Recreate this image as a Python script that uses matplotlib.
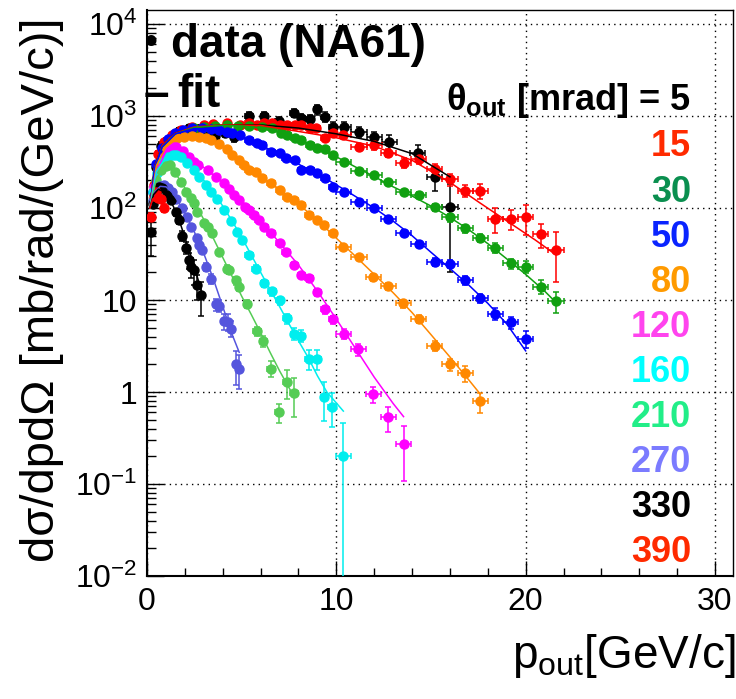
import numpy as np
import matplotlib
matplotlib.use("Agg")
from matplotlib import pyplot as plt
from matplotlib.ticker import MultipleLocator, LogLocator, FixedLocator, FixedFormatter, NullFormatter

plt.rcParams['font.family'] = ['Liberation Sans', 'DejaVu Sans']
plt.rcParams['mathtext.fontset'] = 'custom'
plt.rcParams['mathtext.rm'] = 'Liberation Sans'
plt.rcParams['mathtext.it'] = 'Liberation Sans:italic'
plt.rcParams['mathtext.bf'] = 'Liberation Sans:bold'

# theta_out [mrad] -> measured points (p [GeV/c], d2sigma, relative error)
angles = [5, 15, 30, 50, 80, 120, 160, 210, 270, 330, 390]

d5 = [(0.2, 55, 0.45), (0.5, 280, 0.1), (0.75, 470, 0.12), (1.0, 520, 0.1), (1.3, 600, 0.1),
      (1.7, 680, 0.08), (2.2, 740, 0.08), (2.7, 720, 0.1), (3.2, 640, 0.1), (3.6, 610, 0.1),
      (4.1, 650, 0.1), (4.6, 590, 0.12), (5.4, 1000, 0.1), (6.2, 1000, 0.1), (6.95, 880, 0.12),
      (7.75, 1080, 0.1), (8.15, 950, 0.1), (8.6, 930, 0.1), (9.0, 1180, 0.12), (9.4, 975, 0.12),
      (9.8, 760, 0.12), (10.4, 760, 0.12), (11.2, 670, 0.12), (12.0, 590, 0.14), (12.8, 520, 0.2),
      (14.3, 400, 0.2), (15.2, 217, 0.3), (16.0, 102, 0.8)]
d15 = [(0.35, 180, 0.08), (0.6, 390, 0.06), (0.9, 520, 0.05), (1.3, 620, 0.05), (1.8, 700, 0.05),
       (2.4, 760, 0.05), (3.0, 790, 0.05), (3.5, 820, 0.05), (4.2, 840, 0.05), (4.9, 800, 0.05),
       (5.4, 840, 0.05), (5.8, 800, 0.05), (6.2, 840, 0.05), (6.6, 840, 0.05), (7.0, 800, 0.05),
       (7.4, 800, 0.06), (7.8, 790, 0.06), (8.15, 790, 0.06), (8.6, 740, 0.06), (8.95, 740, 0.06),
       (9.4, 575, 0.08), (9.8, 655, 0.08), (10.35, 620, 0.08), (11.2, 460, 0.08), (12.0, 480, 0.1),
       (12.75, 400, 0.1), (13.55, 310, 0.12), (14.35, 340, 0.12), (15.2, 265, 0.14), (16.0, 205, 0.15),
       (16.8, 154, 0.15), (17.6, 154, 0.18), (18.4, 76, 0.3), (19.2, 76, 0.25), (20.0, 79, 0.35),
       (20.8, 52, 0.3), (21.6, 35, 0.55)]
d30 = [(0.4, 140, 0.05), (0.7, 320, 0.05), (1.0, 450, 0.04), (1.4, 580, 0.04), (1.9, 680, 0.04),
       (2.5, 740, 0.04), (3.0, 760, 0.04), (3.6, 780, 0.04), (4.2, 790, 0.04), (4.8, 780, 0.04),
       (5.4, 770, 0.04), (6.1, 760, 0.04), (6.6, 740, 0.04), (7.1, 655, 0.04), (7.4, 620, 0.04),
       (7.8, 575, 0.05), (8.15, 550, 0.05), (8.6, 483, 0.05), (9.0, 447, 0.05), (9.4, 440, 0.05),
       (9.8, 376, 0.05), (10.4, 316, 0.06), (11.2, 251, 0.06), (12.0, 226, 0.06), (12.75, 190, 0.07),
       (13.55, 148, 0.07), (14.35, 138, 0.08), (15.2, 102, 0.08), (16.0, 79, 0.1), (16.8, 60, 0.1),
       (17.6, 47, 0.1), (18.4, 37, 0.12), (19.2, 25, 0.12), (20.0, 23, 0.14), (20.8, 14, 0.18),
       (21.6, 9.7, 0.25)]
d50 = [(0.3, 150, 0.05), (0.5, 300, 0.04), (0.8, 450, 0.04), (1.1, 560, 0.04), (1.5, 650, 0.04),
       (1.9, 700, 0.04), (2.4, 735, 0.04), (2.9, 740, 0.04), (3.4, 720, 0.04), (3.8, 705, 0.04),
       (4.2, 670, 0.04), (4.5, 650, 0.04), (4.9, 620, 0.04), (5.4, 550, 0.04), (5.8, 508, 0.04),
       (6.1, 490, 0.04), (6.55, 407, 0.04), (7.0, 395, 0.04), (7.35, 350, 0.05), (7.8, 330, 0.05),
       (8.15, 257, 0.05), (8.6, 257, 0.05), (9.0, 240, 0.05), (9.4, 211, 0.05), (9.8, 169, 0.05),
       (10.4, 151, 0.06), (11.2, 116, 0.06), (12.0, 100, 0.06), (12.75, 76, 0.07), (13.55, 54, 0.08),
       (14.35, 41, 0.08), (15.2, 26, 0.1), (16.0, 24.5, 0.1), (16.8, 16.4, 0.12), (17.6, 10.5, 0.12),
       (18.4, 7.1, 0.15), (19.2, 5.7, 0.15), (20.0, 3.8, 0.2)]
d80 = [(0.4, 150, 0.05), (0.7, 300, 0.04), (1.0, 460, 0.04), (1.3, 540, 0.04), (1.6, 575, 0.04),
       (1.95, 590, 0.04), (2.4, 600, 0.04), (2.75, 590, 0.04), (3.1, 570, 0.04), (3.4, 550, 0.04),
       (3.8, 500, 0.04), (4.2, 440, 0.04), (4.5, 376, 0.04), (4.87, 331, 0.04), (5.13, 292, 0.04),
       (5.4, 257, 0.04), (5.77, 245, 0.04), (6.1, 210, 0.04), (6.56, 186, 0.04), (7.0, 155, 0.05),
       (7.4, 131, 0.05), (7.78, 122, 0.05), (8.15, 107, 0.05), (8.57, 83, 0.05), (9.0, 74, 0.05),
       (9.37, 65, 0.06), (9.8, 53, 0.06), (10.37, 38, 0.06), (11.2, 29, 0.07), (11.96, 17.6, 0.08),
       (12.75, 14.1, 0.08), (13.54, 9.2, 0.1), (14.34, 6.2, 0.1), (15.2, 3.2, 0.12), (16.0, 2.0, 0.15),
       (16.8, 1.6, 0.2), (17.6, 0.79, 0.25)]
d120 = [(0.35, 170, 0.05), (0.6, 260, 0.04), (0.85, 350, 0.04), (1.1, 420, 0.04), (1.35, 455, 0.04),
        (1.55, 460, 0.04), (1.9, 420, 0.04), (2.2, 360, 0.04), (2.5, 320, 0.04), (2.7, 295, 0.04),
        (3.2, 258, 0.04), (3.65, 215, 0.04), (4.07, 186, 0.04), (4.35, 160, 0.04), (4.6, 140, 0.04),
        (4.87, 122, 0.04), (5.2, 102, 0.05), (5.4, 95, 0.05), (5.66, 83, 0.05), (5.9, 75, 0.05),
        (6.2, 62, 0.05), (6.55, 53, 0.05), (7.0, 41.5, 0.06), (7.35, 33, 0.06), (7.78, 24, 0.07),
        (8.15, 18.5, 0.07), (8.55, 17.2, 0.08), (9.0, 12.1, 0.08), (9.4, 7.9, 0.1), (9.8, 6.15, 0.1),
        (10.4, 4.3, 0.12), (11.15, 2.9, 0.15), (11.95, 0.94, 0.2), (12.75, 0.53, 0.3), (13.55, 0.27, 0.6)]
d160 = [(0.3, 150, 0.05), (0.55, 240, 0.04), (0.85, 320, 0.04), (1.1, 360, 0.04), (1.35, 380, 0.04),
        (1.55, 376, 0.04), (1.8, 355, 0.04), (2.1, 310, 0.04), (2.5, 258, 0.04), (2.75, 216, 0.04),
        (3.1, 178, 0.04), (3.4, 150, 0.04), (3.7, 125, 0.05), (4.07, 95, 0.05), (4.44, 72, 0.05),
        (4.77, 55, 0.06), (5.0, 45, 0.06), (5.4, 31, 0.07), (5.77, 22, 0.08), (6.2, 15.2, 0.08),
        (6.6, 12.4, 0.1), (7.0, 9.9, 0.1), (7.4, 6.3, 0.12), (7.78, 4.3, 0.15), (8.15, 4.1, 0.15),
        (8.57, 2.3, 0.25), (8.99, 2.3, 0.25), (9.37, 0.89, 0.45), (9.78, 0.69, 0.4), (10.37, 0.2, 1.3)]
d210 = [(0.3, 120, 0.05), (0.5, 200, 0.05), (0.75, 260, 0.04), (1.0, 285, 0.04), (1.2, 290, 0.04),
        (1.5, 245, 0.04), (1.78, 192, 0.05), (2.05, 150, 0.05), (2.3, 128, 0.05), (2.5, 112, 0.05),
        (2.66, 90, 0.05), (3.0, 68, 0.06), (3.2, 62, 0.06), (3.45, 53, 0.06), (3.8, 33, 0.07),
        (4.2, 22, 0.08), (4.34, 21, 0.08), (4.7, 16.3, 0.1), (4.87, 13.8, 0.1), (5.3, 9.1, 0.1),
        (5.8, 4.6, 0.12), (6.15, 3.55, 0.14), (6.56, 1.8, 0.2), (6.95, 0.6, 0.23), (7.37, 1.3, 0.35),
        (7.77, 0.98, 0.45)]
d270 = [(0.3, 120, 0.05), (0.5, 160, 0.05), (0.7, 175, 0.05), (0.9, 178, 0.05), (1.1, 165, 0.05),
        (1.3, 150, 0.05), (1.53, 126, 0.05), (1.86, 100, 0.05), (2.1, 79, 0.06), (2.33, 62, 0.06),
        (2.66, 47, 0.07), (2.75, 40, 0.08), (2.9, 35, 0.08), (3.1, 23, 0.1), (3.4, 17, 0.12),
        (3.65, 9.0, 0.15), (3.8, 8.7, 0.15), (4.07, 5.9, 0.2), (4.3, 5.8, 0.2), (4.44, 4.9, 0.2),
        (4.7, 2.0, 0.4), (4.87, 1.8, 0.4)]
d330 = [(0.3, 110, 0.06), (0.45, 150, 0.06), (0.63, 170, 0.06), (0.8, 165, 0.06), (1.06, 138, 0.06),
        (1.27, 122, 0.07), (1.53, 90, 0.08), (1.7, 74, 0.1), (1.86, 50, 0.12), (2.05, 37, 0.15),
        (2.22, 27, 0.2), (2.33, 23, 0.25), (2.5, 21, 0.3), (2.66, 14.4, 0.3), (2.86, 11.3, 0.4)]
d390 = [(0.2, 80, 0.1), (0.35, 135, 0.08), (0.5, 150, 0.08), (0.6, 130, 0.08), (0.75, 125, 0.08),
        (0.9, 100, 0.1)]

# fitted curves (p, value)
f5 = [(0.15, 100), (0.4, 280), (0.8, 480), (1.5, 650), (2.5, 750), (4, 800), (6, 800), (8, 740),
      (10, 640), (12, 530), (14, 390), (16, 218)]
f15 = [(0.15, 100), (0.4, 280), (0.8, 480), (1.5, 650), (2.5, 760), (4, 800), (6, 790), (8, 680),
       (10, 580), (12, 470), (14, 330), (16, 190), (17.6, 113), (19.2, 68), (20.5, 45), (21.6, 31)]
f30 = [(0.15, 100), (0.4, 270), (0.8, 460), (1.5, 640), (2.5, 750), (4, 790), (5, 780), (6, 740),
       (7, 660), (8, 560), (9, 460), (10, 360), (11, 280), (12, 220), (13, 170), (14, 135), (15, 105),
       (16, 79), (17, 58), (18, 41), (19, 28), (20, 19), (21, 12.5), (21.6, 9.4)]
f50 = [(0.15, 100), (0.4, 270), (0.8, 460), (1.5, 640), (2.5, 730), (3.5, 720), (4.5, 650), (5.5, 540),
       (6.5, 430), (7.5, 340), (8.5, 265), (9.5, 205), (10.5, 155), (12, 100), (13, 72), (14, 50),
       (15, 33), (16, 22), (17, 14.5), (18, 9.2), (19, 5.5), (20, 2.8)]
f80 = [(0.15, 100), (0.5, 290), (1, 460), (1.5, 550), (2, 585), (2.5, 585), (3, 565), (3.5, 520),
       (4, 460), (5, 310), (6, 220), (7, 160), (8, 110), (9, 74), (10, 47), (11, 30), (12, 19),
       (13, 12), (14, 7.3), (15, 4.2), (16, 2.4), (17, 1.35), (17.6, 0.95)]
f120 = [(0.15, 100), (0.5, 250), (1, 410), (1.5, 455), (2, 410), (2.5, 340), (3, 275), (4, 190),
        (5, 120), (6, 72), (7, 42), (8, 24), (9, 12.5), (10, 6.2), (11, 3.0), (12, 1.45), (13, 0.75),
        (13.55, 0.54)]
f160 = [(0.15, 100), (0.5, 250), (1.0, 355), (1.5, 375), (2.0, 320), (2.5, 255), (3, 200), (3.5, 150),
        (4, 105), (4.5, 72), (5, 48), (5.5, 31), (6, 20), (6.5, 13), (7, 8.5), (7.5, 5.5), (8, 3.6),
        (8.5, 2.4), (9, 1.5), (9.5, 1.0), (10.37, 0.62)]
f210 = [(0.15, 100), (0.5, 210), (0.9, 270), (1.2, 270), (1.5, 240), (2, 165), (2.5, 115), (3, 75),
        (3.5, 47), (4, 29), (4.5, 18), (5, 11), (5.5, 7), (6, 4.4), (6.5, 2.7), (7, 1.7), (7.78, 0.88)]
f270 = [(0.15, 100), (0.4, 150), (0.7, 172), (1.0, 170), (1.3, 150), (1.6, 122), (2.0, 88), (2.5, 55),
        (3.0, 32), (3.5, 17), (4.0, 8.5), (4.5, 4.2), (4.87, 2.7)]
f330 = [(0.15, 100), (0.35, 140), (0.6, 160), (0.9, 150), (1.2, 125), (1.6, 85), (2.0, 48), (2.4, 27),
        (2.9, 12)]
f390 = [(0.15, 100), (0.3, 125), (0.5, 135), (0.7, 125), (0.9, 105)]

data = [d5, d15, d30, d50, d80, d120, d160, d210, d270, d330, d390]
fits = [f5, f15, f30, f50, f80, f120, f160, f210, f270, f330, f390]
colors = ['black', '#ff0000', '#10a010', '#0000ff', '#ff8800', '#ff00ff', '#00eeee',
          '#55cc55', '#5555dd', 'black', '#ff0000']
text_colors = ['black', '#ff2a00', '#0a8f4f', '#0a24ff', '#ff9a00', '#ff44ee', '#00ffff',
               '#22ee88', '#7b7bff', 'black', '#ff2a00']

W, H = 736, 699
fig = plt.figure(figsize=(W / 100, H / 100), dpi=100)
ax = fig.add_axes([147 / W, 1 - 576 / H, (733 - 147) / W, (576 - 10) / H])


def halfwidth(p):
    # momentum bin half widths
    return np.where(p > 10.2, 0.4, np.where(p > 5.0, 0.2, 0.1))


for d, f, c in zip(data, fits, colors):
    p = np.array([t[0] for t in d])
    v = np.array([t[1] for t in d])
    e = np.array([t[2] for t in d]) * v
    elo = np.minimum(e, 0.9999 * v)
    ax.errorbar(p, v, xerr=halfwidth(p), yerr=[elo, e], fmt='o', ms=6.5, color=c,
                mec=c, elinewidth=1.1, capsize=2.2, capthick=1.1, zorder=3)
    fp = [t[0] for t in f]
    fv = [t[1] for t in f]
    ax.plot(fp, fv, '-', color=c, lw=1.1, zorder=4)

ax.set_yscale('log')
ax.set_xlim(0, 30.95)
ax.set_ylim(0.01, 14200)

ax.xaxis.set_major_locator(MultipleLocator(10))
ax.xaxis.set_minor_locator(MultipleLocator(2))
ax.yaxis.set_major_locator(FixedLocator([1e-2, 1e-1, 1, 10, 1e2, 1e3, 1e4]))
ax.yaxis.set_major_formatter(FixedFormatter(['$10^{-2}$', '$10^{-1}$', '1', '10',
                                             '$10^{2}$', '$10^{3}$', '$10^{4}$']))
ax.yaxis.set_minor_locator(LogLocator(base=10, subs=np.arange(2, 10), numticks=20))
ax.yaxis.set_minor_formatter(NullFormatter())

ax.tick_params(which='both', direction='in', top=False, right=False, labelsize=23, width=1)
ax.tick_params(axis='y', which='major', length=12, pad=7)
ax.tick_params(axis='y', which='minor', length=6.5)
ax.tick_params(axis='x', which='major', length=11, pad=8)
ax.tick_params(axis='x', which='minor', length=6)

ax.grid(True, which='major', color='black', ls=(0, (1, 3)), lw=1)
for s in ['left', 'bottom']:
    ax.spines[s].set_linewidth(1.5)
for s in ['top', 'right']:
    ax.spines[s].set_linewidth(1.0)


def fx(px):
    return px / W


def fy(py):
    return 1 - py / H


fig.text(fx(42), fy(290), 'dσ/dpdΩ [mb/rad/(GeV/c)]', rotation=90, ha='center', va='center',
         fontsize=34)
fig.text(fx(735), fy(668), r'p$_{\mathregular{out}}$[GeV/c]', ha='right', va='baseline', fontsize=33)

fig.text(fx(145), fy(43), '•', ha='left', va='center', fontsize=26, fontweight='bold')
fig.text(fx(171), fy(45), 'data (NA61)', ha='left', va='center', fontsize=33, fontweight='bold')
fig.text(fx(144), fy(95), '–', ha='left', va='center', fontsize=33, fontweight='bold')
fig.text(fx(177), fy(95), 'fit', ha='left', va='center', fontsize=33, fontweight='bold')

fig.text(fx(691), fy(101), r'θ$_{\mathbf{out}}$ [mrad] = 5', ha='right', va='center',
         fontsize=26, fontweight='bold', color=text_colors[0])
for i in range(1, len(angles)):
    fig.text(fx(691), fy(147 + 45.1 * (i - 1)), str(angles[i]), ha='right', va='center',
             fontsize=26, fontweight='bold', color=text_colors[i])

fig.savefig('out.png', dpi=100)
